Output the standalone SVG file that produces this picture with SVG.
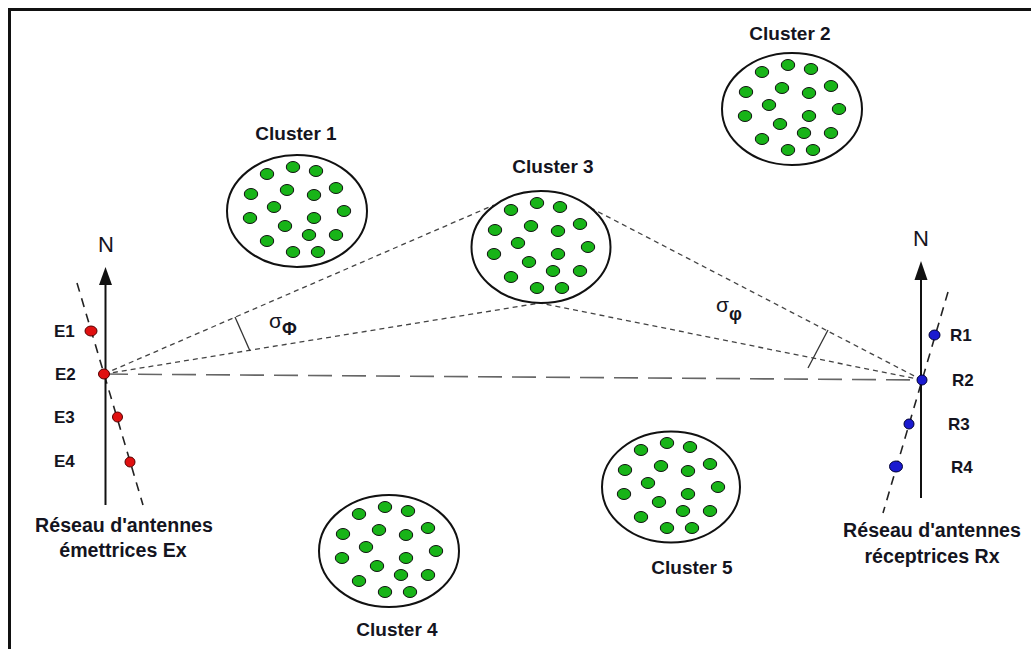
<svg xmlns="http://www.w3.org/2000/svg" xmlns:xlink="http://www.w3.org/1999/xlink" width="1031" height="649" viewBox="0 0 1031 649">
<style>
.lbl{font-family:"Liberation Sans",Arial,sans-serif;font-weight:bold;font-size:19px;fill:#141420;text-anchor:middle;dominant-baseline:central}
.big{font-size:19.6px}
.ant{font-family:"Liberation Sans",Arial,sans-serif;font-weight:bold;font-size:17px;fill:#141420;dominant-baseline:central}
.n{font-family:"Liberation Sans",Arial,sans-serif;font-size:22px;fill:#141420;text-anchor:middle;dominant-baseline:central}
.sig{font-family:"Liberation Sans",Arial,sans-serif;font-size:21px;fill:#141420}
.sub{font-family:"Liberation Sans",Arial,sans-serif;font-weight:bold;font-size:18px;fill:#141420}
.ring{fill:#fff;stroke:#111;stroke-width:2}
.dot{fill:#18b418;stroke:#111;stroke-width:1}
.sd{fill:none;stroke:#444;stroke-width:1.3;stroke-dasharray:5 4}
.ld{fill:none;stroke:#666;stroke-width:1.6;stroke-dasharray:24 10}
.tilt{fill:none;stroke:#222;stroke-width:1.6;stroke-dasharray:9 7}
.axis{stroke:#111;stroke-width:2}
.tick{stroke:#333;stroke-width:1.3}
.red{fill:#e01010;stroke:#500;stroke-width:1}
.blue{fill:#1a1ad0;stroke:#003;stroke-width:1}
</style>
<defs>
<g id="dots">
<ellipse class="dot" cx="-30" cy="-37" rx="6.7" ry="5.5"/>
<ellipse class="dot" cx="-4" cy="-44" rx="6.7" ry="5.5"/>
<ellipse class="dot" cx="19" cy="-40" rx="6.7" ry="5.5"/>
<ellipse class="dot" cx="-46" cy="-17" rx="6.7" ry="5.5"/>
<ellipse class="dot" cx="-10" cy="-21" rx="6.7" ry="5.5"/>
<ellipse class="dot" cx="17" cy="-16" rx="6.7" ry="5.5"/>
<ellipse class="dot" cx="39" cy="-23" rx="6.7" ry="5.5"/>
<ellipse class="dot" cx="-23" cy="-4" rx="6.7" ry="5.5"/>
<ellipse class="dot" cx="47" cy="0" rx="6.7" ry="5.5"/>
<ellipse class="dot" cx="-47" cy="7" rx="6.7" ry="5.5"/>
<ellipse class="dot" cx="17" cy="7" rx="6.7" ry="5.5"/>
<ellipse class="dot" cx="-12" cy="15" rx="6.7" ry="5.5"/>
<ellipse class="dot" cx="-30" cy="30" rx="6.7" ry="5.5"/>
<ellipse class="dot" cx="12" cy="24" rx="6.7" ry="5.5"/>
<ellipse class="dot" cx="39" cy="24" rx="6.7" ry="5.5"/>
<ellipse class="dot" cx="-4" cy="41" rx="6.7" ry="5.5"/>
<ellipse class="dot" cx="21" cy="41" rx="6.7" ry="5.5"/>
</g>
</defs>
<rect x="0" y="0" width="1031" height="649" fill="#fff"/>
<rect x="9.5" y="9.5" width="1100" height="700" fill="none" stroke="#111" stroke-width="3"/>

<g id="connectors">
<line class="sd" x1="104" y1="374" x2="494" y2="205"/>
<line class="sd" x1="104" y1="374" x2="540" y2="303"/>
<line class="sd" x1="922" y1="380" x2="562" y2="193"/>
<line class="sd" x1="922" y1="380" x2="540" y2="303"/>
<line class="ld" x1="104" y1="374" x2="922" y2="380"/>
<line class="tick" x1="235" y1="317" x2="250" y2="351"/>
<line class="tick" x1="828" y1="330" x2="808" y2="368"/>
</g>

<g id="cluster1">
<ellipse class="ring" cx="297" cy="211" rx="70" ry="56"/>
<use href="#dots" xlink:href="#dots" transform="translate(297,211)"/>
<text class="lbl" x="296" y="133">Cluster 1</text>
</g>
<g id="cluster2">
<ellipse class="ring" cx="792" cy="109" rx="70" ry="56"/>
<use href="#dots" xlink:href="#dots" transform="translate(792,109)"/>
<text class="lbl" x="790" y="33">Cluster 2</text>
</g>
<g id="cluster3">
<ellipse class="ring" cx="541" cy="247" rx="69.5" ry="56"/>
<use href="#dots" xlink:href="#dots" transform="translate(541,247)"/>
<text class="lbl" x="553" y="166">Cluster 3</text>
</g>
<g id="cluster4">
<ellipse class="ring" cx="389" cy="551" rx="70" ry="56"/>
<use href="#dots" xlink:href="#dots" transform="translate(389,551)"/>
<text class="lbl" x="397" y="629">Cluster 4</text>
</g>
<g id="cluster5">
<ellipse class="ring" cx="671" cy="487" rx="69" ry="55.5"/>
<use href="#dots" xlink:href="#dots" transform="translate(671,487)"/>
<text class="lbl" x="692" y="567">Cluster 5</text>
</g>

<g id="tx-array">
<line class="tilt" x1="77" y1="283" x2="143" y2="505"/>
<line class="axis" x1="105.5" y1="283" x2="105.5" y2="505"/>
<polygon points="105.5,267 99,285 112,285" fill="#111"/>
<text class="n" x="106" y="244">N</text>
<ellipse class="red" cx="91" cy="331" rx="6" ry="5"/>
<ellipse class="red" cx="104" cy="374" rx="5.5" ry="5"/>
<ellipse class="red" cx="117.5" cy="417" rx="5" ry="5"/>
<ellipse class="red" cx="130" cy="462" rx="5" ry="5"/>
<text class="ant" x="54" y="331">E1</text>
<text class="ant" x="55" y="374">E2</text>
<text class="ant" x="54" y="417">E3</text>
<text class="ant" x="54" y="461">E4</text>
<text class="lbl big" x="124" y="525">Réseau d'antennes</text>
<text class="lbl big" x="123" y="550">émettrices Ex</text>
</g>

<g id="rx-array">
<line class="tilt" x1="948" y1="292" x2="883" y2="513"/>
<line class="axis" x1="921" y1="278" x2="921" y2="498"/>
<polygon points="921,261 914.5,280 927.5,280" fill="#111"/>
<text class="n" x="921" y="238">N</text>
<ellipse class="blue" cx="934.5" cy="335" rx="5.5" ry="5"/>
<ellipse class="blue" cx="922" cy="380" rx="5" ry="5"/>
<ellipse class="blue" cx="909" cy="424" rx="5" ry="5"/>
<ellipse class="blue" cx="896" cy="466.5" rx="6.5" ry="5.5"/>
<text class="ant" x="950" y="335.5">R1</text>
<text class="ant" x="952" y="380">R2</text>
<text class="ant" x="948" y="424">R3</text>
<text class="ant" x="951" y="467">R4</text>
<text class="lbl big" x="932" y="530">Réseau d'antennes</text>
<text class="lbl big" x="932" y="556">réceptrices Rx</text>
</g>

<g id="angles">
<text class="sig" x="269" y="328">σ<tspan class="sub" dy="7">Φ</tspan></text>
<text class="sig" x="716" y="312">σ<tspan class="sub" dy="8">φ</tspan></text>
</g>
</svg>
